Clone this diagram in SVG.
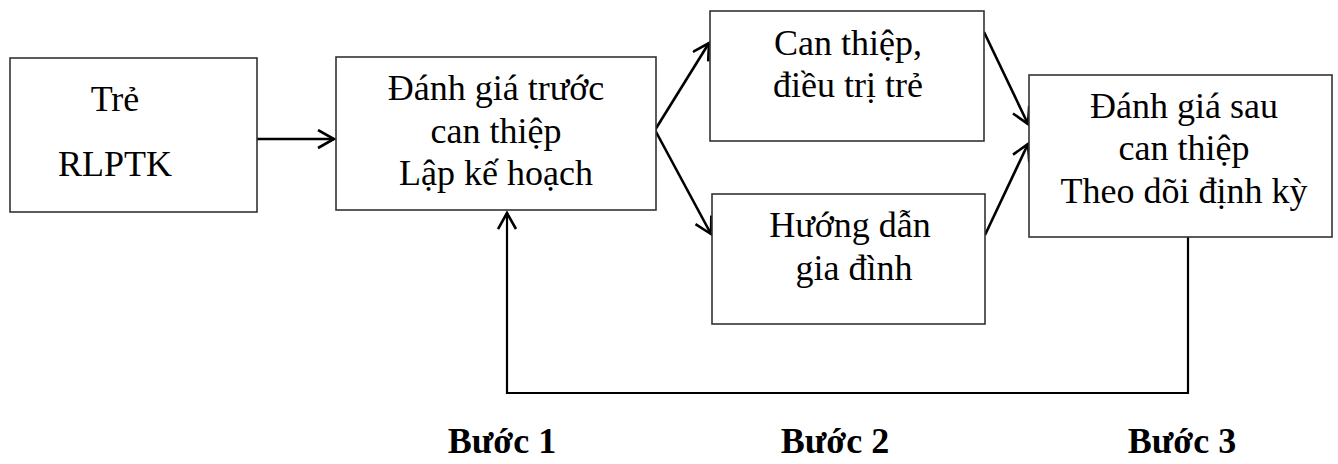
<svg xmlns="http://www.w3.org/2000/svg" width="1338" height="464" viewBox="0 0 1338 464">
<style>
.box{fill:#fff;stroke:#333;stroke-width:1.6}
text{font-family:'Liberation Serif',Tinos,'Times New Roman',Times,serif;font-size:36px;fill:#000;text-anchor:middle}
.b{font-weight:bold}
.c{fill:none;stroke:#000;stroke-width:2.6}
.f{fill:none;stroke:#000;stroke-width:2.2}
</style>
<defs>
<marker id="ah" markerUnits="userSpaceOnUse" markerWidth="22" markerHeight="22" refX="17" refY="10" orient="auto" viewBox="0 0 22 22">
<path d="M1,1 L17,10 L1,19" fill="none" stroke="#000" stroke-width="2.6"/>
</marker>
</defs>
<rect width="1338" height="464" fill="#fff"/>
<g id="connectors">
<line class="c" x1="257" y1="139" x2="334" y2="139" marker-end="url(#ah)"/>
<line class="c" x1="655" y1="130" x2="709" y2="43" marker-end="url(#ah)"/>
<line class="c" x1="655" y1="130" x2="711" y2="234" marker-end="url(#ah)"/>
<line class="c" x1="984" y1="32" x2="1028" y2="124" marker-end="url(#ah)"/>
<line class="c" x1="985" y1="235" x2="1028" y2="144" marker-end="url(#ah)"/>
<polyline class="f" points="1188,237 1188,393 507,393 507,213" marker-end="url(#ah)"/>
</g>
<g id="node-tre">
<rect class="box" x="10" y="58" width="247" height="154"/>
<text x="115" y="111" font-family="Liberation Serif, serif">Trẻ</text>
<text x="115" y="176" font-family="Liberation Serif, serif">RLPTK</text>
</g>
<g id="node-danhgia-truoc">
<rect class="box" x="336" y="57" width="320" height="153"/>
<text x="496" y="100">Đánh giá trước</text>
<text x="496" y="143">can thiệp</text>
<text x="496" y="185">Lập kế hoạch</text>
</g>
<g id="node-can-thiep">
<rect class="box" x="710" y="11" width="274" height="130"/>
<text x="848" y="55">Can thiệp,</text>
<text x="848" y="97">điều trị trẻ</text>
</g>
<g id="node-huong-dan">
<rect class="box" x="712" y="194" width="273" height="130"/>
<text x="850" y="237">Hướng dẫn</text>
<text x="854" y="280">gia đình</text>
</g>
<g id="node-danhgia-sau">
<rect class="box" x="1029" y="75" width="303" height="162"/>
<text x="1184" y="118">Đánh giá sau</text>
<text x="1184" y="160">can thiệp</text>
<text x="1184" y="203">Theo dõi định kỳ</text>
</g>
<g id="labels">
<text class="b" x="502" y="453">Bước 1</text>
<text class="b" x="835" y="453">Bước 2</text>
<text class="b" x="1182" y="453">Bước 3</text>
</g>
</svg>
